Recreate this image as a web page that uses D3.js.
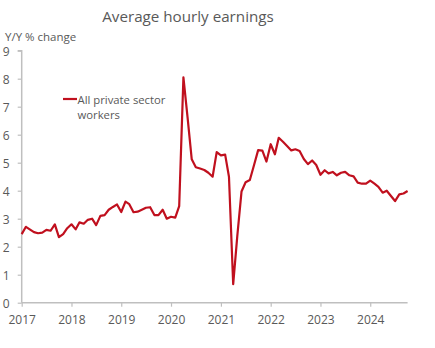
<!DOCTYPE html>
<html><head><meta charset="utf-8">
<script src="https://cdn.jsdelivr.net/npm/d3@7"></script>
<style>
html,body{margin:0;padding:0;background:#fff;}
text{font-family:"Open Sans","Noto Sans",sans-serif;}
</style></head>
<body>
<svg id="chart" width="435" height="348"></svg>
<script>
const title = "Average hourly earnings";
const yLabel = "Y/Y % change";
const seriesName = ["All private sector", "workers"];
const startYear = 2017, startMonth = 0;
const values = [
  2.45, 2.71, 2.62, 2.52, 2.48, 2.50, 2.60, 2.57, 2.80, 2.34, 2.45, 2.66,
  2.80, 2.62, 2.87, 2.82, 2.96, 3.00, 2.77, 3.10, 3.13, 3.32, 3.42, 3.51,
  3.24, 3.61, 3.52, 3.23, 3.25, 3.32, 3.39, 3.41, 3.13, 3.13, 3.32, 3.00,
  3.07, 3.04, 3.45, 8.05, 6.64, 5.12, 4.84, 4.79, 4.74, 4.64, 4.50, 5.38,
  5.26, 5.29, 4.50, 0.66, 2.38, 3.97, 4.30, 4.38, 4.92, 5.45, 5.43, 5.04,
  5.66, 5.30, 5.89, 5.75, 5.60, 5.44, 5.48, 5.42, 5.13, 4.95, 5.08, 4.92,
  4.57, 4.73, 4.62, 4.67, 4.55, 4.64, 4.67, 4.55, 4.51, 4.29, 4.25, 4.25,
  4.36, 4.25, 4.14, 3.93, 4.00, 3.81, 3.63, 3.87, 3.90, 3.99
];
const yTicks = [0,1,2,3,4,5,6,7,8,9];
const xTickYears = [2017,2018,2019,2020,2021,2022,2023,2024];

const svg = d3.select("#chart");
const mLeft = 21.7, mRight = 407.6, mTop = 50.7, mBottom = 302.7;
const dates = values.map((v,i)=>new Date(startYear, startMonth + i, 1));
const x = d3.scaleTime().domain([new Date(2017,0,1), new Date(2024,9,1)]).range([mLeft, mRight]);
const y = d3.scaleLinear().domain([0,9]).range([mBottom, mTop]);
const axisColor = "#bfbfbf", textColor = "#595959";

// Y axis
const ya = svg.append("g").attr("transform",`translate(${mLeft},0)`)
  .call(d3.axisLeft(y).tickValues(yTicks).tickSize(4).tickPadding(8).tickFormat(d3.format("d")));
ya.select(".domain").attr("stroke",axisColor).attr("stroke-width",1.5).attr("d",`M-4,${y(9)}H0V${y(0)}`);
ya.selectAll(".tick line").attr("stroke",axisColor).attr("stroke-width",1.2);
ya.selectAll(".tick text").attr("fill",textColor).attr("font-size",12).attr("font-family","Open Sans")
  .attr("text-anchor","start").attr("x",-19).attr("dy","0.36em");

// X axis
const xa = svg.append("g").attr("transform",`translate(0,${mBottom})`)
  .call(d3.axisBottom(x).tickValues(xTickYears.map(yr=>new Date(yr,0,1))).tickSize(4).tickPadding(9).tickFormat(d3.timeFormat("%Y")));
xa.select(".domain").attr("stroke",axisColor).attr("stroke-width",1.5).attr("d",`M${mLeft},0H${mRight}`);
xa.selectAll(".tick line").attr("stroke",axisColor).attr("stroke-width",1.2);
xa.selectAll(".tick text").attr("fill",textColor).attr("font-size",12).attr("font-family","Open Sans");

// Line
const line = d3.line().x((d,i)=>x(dates[i])).y(d=>y(d));
svg.append("path").datum(values).attr("d",line).attr("fill","none")
  .attr("stroke","#c0101e").attr("stroke-width",2.2).attr("stroke-linejoin","round");

// Title and y label
svg.append("text").attr("x",188).attr("y",22).attr("text-anchor","middle")
  .attr("font-size",15.2).attr("fill",textColor).text(title);
svg.append("text").attr("x",5).attr("y",41).attr("font-size",11.5).attr("fill",textColor).text(yLabel);

// Legend
svg.append("line").attr("x1",63).attr("x2",77).attr("y1",99).attr("y2",99)
  .attr("stroke","#c0101e").attr("stroke-width",2.2);
svg.append("text").attr("x",77.5).attr("y",103.5).attr("font-size",11.3).attr("fill",textColor).text(seriesName[0]);
svg.append("text").attr("x",77.5).attr("y",118.5).attr("font-size",11.3).attr("fill",textColor).text(seriesName[1]);
</script>
</body></html>
